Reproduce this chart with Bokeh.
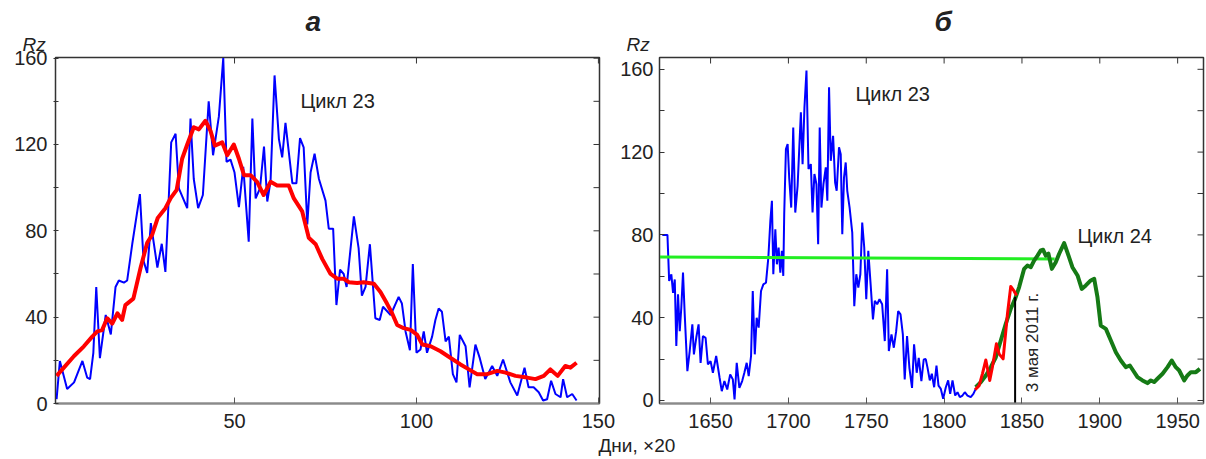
from bokeh.plotting import figure
from bokeh.models import Range1d, FixedTicker, Label, Title
from bokeh.layouts import row
from bokeh.embed import file_html
from bokeh.resources import INLINE
import math

# ---------------- data: panel a (cycle 23, days x20) ----------------
a_blue_x = [1.1, 2, 4, 5.9, 8.2, 9.5, 10.3, 11.2, 12, 13, 14.6, 16, 17.3, 18.2, 19.6, 20.5, 21.9, 24, 25, 26,
            27, 28.8, 30, 31, 32, 32.6, 33.8, 34.7, 37, 37.9, 38.8, 40, 41.3, 42.9, 44.1, 45.7, 46.9, 47.8, 48.9, 50,
            51.2, 52.4, 53.9, 54.9, 55.8, 57, 58.1, 59, 59.9, 61, 62.2, 63.1, 64, 65.9, 67, 68, 69, 70, 70.9, 72,
            73.2, 75, 75.9, 77.1, 78, 79, 80, 80.8, 82.8, 84.1, 85, 86, 87.2, 88.7, 89.9, 90.8, 92.9, 95.1, 96, 97,
            98.2, 99, 100, 101.1, 102, 102.9, 104.3, 105.2, 106.1, 107, 108, 108.9, 110, 111, 111.9, 113.5, 114.6,
            116.2, 117.4, 118.9, 120.8, 122.2, 123.8, 125.8, 127.7, 129.7, 130.8, 132.2, 133.6, 134.8, 135.9, 137,
            138.2, 139.6, 140.3, 141.4, 142.8, 144]
a_blue_y = [2, 19.7, 6.7, 9.8, 19.7, 12, 11.3, 23.5, 54, 21, 41, 32, 54, 57, 56, 57, 74, 97, 66, 60.5,
            83.6, 63, 74, 61, 98, 121, 125, 99.7, 90.5, 132, 104, 90.5, 96.6, 140, 115, 133, 160, 112, 113, 107,
            91, 109.6, 75, 132, 95, 99.7, 119, 93.6, 103, 152, 122.5, 114, 130, 102, 102, 123, 118.7, 83, 107, 115.7,
            104, 94, 81, 81, 45.6, 62, 60, 54, 86.7, 72, 50, 54, 73.8, 39.5, 38.7, 44.8, 41, 49.4, 46.3, 33.4,
            24.7, 64.6, 23.5, 25, 33.4, 23.5, 31, 38.7, 44, 42.5, 28.8, 31, 13.6, 9.8, 31.8, 26.5, 7.5,
            27.3, 21, 11.3, 17.4, 12.8, 20.4, 9.8, 3.7, 16.6, 7.5, 7.5, 5.2, 1.4, 2, 10.5,
            4.4, 2.9, 11.3, 2.9, 4.4, 1.4]
a_red_x = [1.1, 3.1, 5.9, 8.6, 10.9, 12.3, 13.6, 15, 16.4, 17.8, 19.1, 20, 22.2, 24.2, 26, 27.4, 28.9, 31, 32.4, 34.1,
           35.6, 37, 38.8, 40.2, 42, 43.4, 44.6, 46.6, 48, 49.8, 51.2, 52.6, 54.4, 56.2, 58, 59.9, 61.7, 64.9, 66.3,
           68.6, 70.4, 72.3, 74.1, 76.4, 78.2, 80, 81.4, 83.7, 85.5, 88.3, 90.1, 91.9, 93.3, 94.7, 96.5, 98.4, 100.2,
           101.6, 103.9, 106.6, 109.3, 112.1, 114.4, 116.7, 119.4, 122.2, 124.5, 127.2, 130.4, 132.7, 135, 136.8,
           138.8, 140.9, 142.3, 144]
a_red_y = [12.8, 16.6, 22, 26.5, 31, 33.4, 34, 39.5, 37, 41.8, 38.7, 45.6, 48.6, 63, 74.5, 78.3, 86, 90.5, 95, 99,
           113.4, 120, 128, 127, 131, 126.3, 119.5, 121, 115, 120, 113.4, 105.8, 105.8, 102.7, 96.6, 102.7, 101, 101, 95,
           89, 76.8, 73.8, 67, 60, 57.8, 57.8, 56.2, 55.8, 56.2, 55.5, 51.7, 46.3, 41.8, 36.4, 34.9, 34.1, 31.8,
           27.3, 26.5, 24.2, 21.2, 18.1, 15.8, 13.6, 13.6, 15.1, 14.3, 12.8, 12, 11.3, 12.8, 15.8,
           12.8, 17.4, 16.6, 18.9]
a_xticks = [50, 100, 150]
a_yticks = [0, 40, 80, 120, 160]
a_yminor = [20, 60, 100, 140]

# ---------------- data: panel б (cycles 23-24) ----------------
b_blue_x = [1619, 1622.3, 1623.4, 1624.8, 1625.9, 1627, 1628, 1629.1, 1630.2,
            1631.2, 1632.3, 1633.4, 1635.1, 1636.6, 1638.3, 1639.3, 1640.8, 1642.3, 1643.6,
            1645.1, 1646.8, 1648.3, 1650, 1651.5, 1653.6, 1655.8, 1657.2, 1658.9, 1660.7,
            1662.6, 1664.3, 1665.4, 1666.8, 1668.5, 1670.3, 1671.7, 1673.2, 1674.5, 1676,
            1677.1, 1678.4, 1679.6, 1680.9, 1682.4, 1683.9, 1685.6, 1687.1, 1688.4, 1689.4,
            1690.3, 1691.6, 1692.6, 1693.7, 1694.8, 1695.8, 1696.7, 1697.3, 1698.4, 1699.5,
            1700.5, 1701.8, 1703.1, 1704.4, 1705.9, 1707, 1708, 1709.1, 1710.3, 1711.6,
            1712.9, 1714.4, 1715.5, 1716.7, 1718, 1719.1, 1720.1, 1721.2, 1722.5, 1724,
            1725, 1726.1, 1727.2, 1728.7, 1730, 1731, 1732.5, 1733.6, 1734.6, 1735.7,
            1736.8, 1737.8, 1739.3, 1741, 1742.3, 1743.6, 1744.9, 1746.2, 1747.4, 1748.7,
            1750, 1751.3, 1752.8, 1754.3, 1755.5, 1757, 1758.5, 1760.2, 1761.9, 1763.4,
            1764.5, 1766.2, 1767.7, 1769.2, 1770.5, 1772, 1773.5, 1774.7, 1776.2, 1777.7,
            1779.4, 1780.7, 1782.4, 1783.7, 1785.4, 1786.9,
            1788.2, 1789.3, 1790.8, 1792.1, 1793.6, 1795.1, 1796.4, 1797.9, 1799.4, 1801.1, 1802.6,
            1803.9, 1805.4, 1807.1, 1808.6, 1810.1, 1811.8, 1813.3, 1815, 1817.1, 1818.8, 1820.3]
b_blue_y = [80, 80, 57.7, 61, 52, 58.5, 26.3, 51.3, 33.5,
            44.8, 61.8, 41.6, 14.2, 23.9, 36.8, 22.3, 30.3, 36.8, 18.2,
            31.1, 30.3, 17.4, 19, 13.4, 21.5, 11, 4.5, 9.4, 5.3,
            12.6, 10.2, 0.5, 18.2, 6.1, 9.4, 13.4, 18.2, 11.8, 21.5,
            52.9, 22.3, 40, 35.2, 52.9, 56.1, 56.9, 69, 86.8, 96.5,
            61, 82.7, 65.8, 73.9, 61.8, 72.3, 60.2, 90, 121.5, 123.9,
            107.7, 93.2, 131.9, 90.8, 103.7, 122.3, 139.2, 114.2, 141.6, 159.4,
            111.8, 114.2, 90.8, 109.4, 104.5, 75.5, 131.9, 93.2, 104.5, 112.6,
            96.5, 151.3, 115.8, 127.9, 105.3, 101.3, 122.3, 119, 80.3, 107.7,
            115, 101.3, 93.2, 81.1, 45.6, 61, 54.5, 61, 86, 73.9,
            48.9, 72.3, 56.1, 39.2, 48.1, 46.5, 48.9, 46.5, 28.7, 63.4,
            23.9, 31.9, 25.5, 33.5, 43.2, 41.6, 31.9, 10.2, 31.1, 15.8,
            6.1, 27.1, 13.4, 20.6, 9.4, 19.8,
            20, 16, 9.7, 12.9, 6.4, 16.9, 7.2, 5.6, 0.8, 6.4, 9.7,
            3.2, 9.7, 2.4, 4, 1.6, 2.4, 4, 2.4, 1.6, 3.2, 5.6]
b_red_x = [1819.9, 1822.5, 1824.6, 1826.8, 1829.3, 1831, 1833.6, 1835.3, 1837.9, 1840.7, 1842.8, 1845, 1846.5]
b_red_y = [5.2, 7.2, 12.9, 19.6, 9.7, 16.1, 27.4, 22.5, 20.1, 41.9, 55.1, 52.8, 50.7]
b_green_x = [1820.3, 1823.6, 1826.8, 1830, 1833.2, 1836.4, 1839.6, 1842.8, 1845.6, 1848.2,
             1851.4, 1853.5, 1855.7, 1857.8, 1860, 1862.1, 1863.6, 1865.3, 1867, 1869.2,
             1871.7, 1873.9, 1877.1, 1879.9, 1882.4, 1885.7, 1888.4, 1891, 1894.2, 1896.4,
             1898.5, 1900.6, 1903.9, 1907.1, 1910.3, 1913.5, 1916.7, 1919.3, 1921.4, 1924.2,
             1927.4, 1930.6, 1932.8, 1934.9, 1937, 1940.3, 1943.5, 1946.2, 1948.8, 1951,
             1954.2, 1956.3, 1958.5, 1961.7, 1964.3]
b_green_y = [6.4, 8.9, 12.1, 16.1, 20.9, 29, 37, 44.3, 49.1, 54.8,
             63.6, 65.2, 64.4, 67.6, 70, 72.5, 72.8, 70, 70.9, 63.6,
             66.8, 70.9, 76, 70, 64.4, 60.4, 53.9, 55.6, 58, 58.8,
             49.9, 36.2, 34.6, 29, 23.3, 19.3, 16.1, 16.9, 14.5, 11.3,
             9.7, 8.4, 9.7, 8.9, 10.5, 12.9, 16.1, 19.3, 16.1, 14.5,
             9.7, 12.1, 13.7, 13.7, 15.3]
level_x = [1617.2, 1871]
level_y = [69.3, 68.4]
may2011_x = [1845.6, 1845.6]
may2011_y = [50, -1.5]
b_xticks = [1650, 1700, 1750, 1800, 1850, 1900, 1950]
b_yticks = [0, 40, 80, 120, 160]
b_yminor = [20, 60, 100, 140]

FONT = "Liberation Sans"
TXT = "#222222"
FRAME = "#333333"


def style(p, xticks, yticks, yminor, left_in, left_out):
    p.grid.visible = False
    p.outline_line_color = FRAME
    p.outline_line_width = 1.5
    p.background_fill_color = "white"
    for ax in p.xaxis:
        ax.ticker = FixedTicker(ticks=xticks)
        ax.major_tick_in = 6
        ax.major_tick_out = 0
        ax.minor_tick_in = 0
        ax.minor_tick_out = 0
        ax.axis_line_color = "#8a8a8a"
        ax.axis_line_width = 2
        ax.major_tick_line_color = "#555555"
        ax.major_label_text_font = FONT
        ax.major_label_text_font_size = "20px"
        ax.major_label_text_color = TXT
        ax.major_label_standoff = 10
    for ax in p.yaxis:
        ax.ticker = FixedTicker(ticks=yticks, minor_ticks=yminor)
        ax.major_tick_in = left_in
        ax.major_tick_out = left_out
        ax.minor_tick_in = left_in
        ax.minor_tick_out = left_out
        ax.axis_line_color = FRAME
        ax.major_tick_line_color = FRAME
        ax.minor_tick_line_color = FRAME
        ax.major_label_text_font = FONT
        ax.major_label_text_font_size = "20px"
        ax.major_label_text_color = TXT
        ax.major_label_standoff = 6
    # inner tick marks on the top and right edges of the frame (half of each dash is clipped)
    xr, yr = p.x_range, p.y_range
    top_x = [t for t in xticks if xr.start <= t <= xr.end]
    p.scatter(top_x, [yr.end] * len(top_x), marker="dash", angle=math.pi / 2, size=12,
              line_color=FRAME, line_width=1)
    right_y = sorted(yticks + yminor)
    p.scatter([xr.end] * len(right_y), right_y, marker="dash", size=12, line_color=FRAME, line_width=1)


def lab(p, x, y, text, size, style_="normal", align="left", angle=0.0):
    p.add_layout(Label(x=x, y=y, text=text, text_font=FONT, text_font_size=size,
                       text_font_style=style_, text_color=TXT, text_align=align,
                       text_baseline="middle", angle=angle))


def title(p, text, size, style_, offset, place="above", standoff=0):
    p.add_layout(Title(text=text, align="left", offset=offset, text_font=FONT, text_font_size=size,
                       text_font_style=style_, text_color=TXT, standoff=standoff), place)


# ---------------- panel a ----------------
p1 = figure(width=620, height=459, x_range=Range1d(0.8, 150.3), y_range=Range1d(0, 160.3),
            output_backend="svg", toolbar_location=None,
            min_border_left=55, min_border_right=21, min_border_top=56, min_border_bottom=56)
style(p1, a_xticks, a_yticks, a_yminor, 3, 2)
p1.line(a_blue_x, a_blue_y, line_color="#0000ff", line_width=2)
p1.line(a_red_x, a_red_y, line_color="#ff0000", line_width=4, line_join="round")
title(p1, "Rz", "19px", "italic", -33, standoff=5)
title(p1, "а", "28px", "bold italic", 250, standoff=-15)
lab(p1, 68.1, 140.3, "Цикл 23", "20px")

# ---------------- panel б ----------------
p2 = figure(width=611, height=459, x_range=Range1d(1617.2, 1966.6), y_range=Range1d(-1.45, 165.7),
            output_backend="svg", toolbar_location=None,
            min_border_left=64, min_border_right=3, min_border_top=57, min_border_bottom=56)
style(p2, b_xticks, b_yticks, b_yminor, 5, 0)
p2.border_fill_color = None
p2.margin = (0, 0, 0, -25)
p2.line(b_blue_x, b_blue_y, line_color="#0000ff", line_width=2)
p2.line(level_x, level_y, line_color="#22ee22", line_width=3)
p2.line(b_green_x, b_green_y, line_color="#157a15", line_width=4, line_join="round")
p2.line(b_red_x, b_red_y, line_color="#ff0000", line_width=3, line_join="round")
p2.line(may2011_x, may2011_y, line_color="#000000", line_width=2)
title(p2, "Rz", "19px", "italic", -33, standoff=5)
title(p2, "б", "28px", "bold italic", 275, standoff=-15)
title(p2, "Дни, ×20", "19px", "normal", -61, place="below", standoff=4)
lab(p2, 1743.1, 148.3, "Цикл 23", "20px")
lab(p2, 1885.7, 79.7, "Цикл 24", "20px")
lab(p2, 1856.8, 28.0, "3 мая 2011 г.", "17px", "normal", "center", math.pi / 2)

layout = row(p1, p2)
open("out.html", "w").write(file_html(layout, INLINE))
